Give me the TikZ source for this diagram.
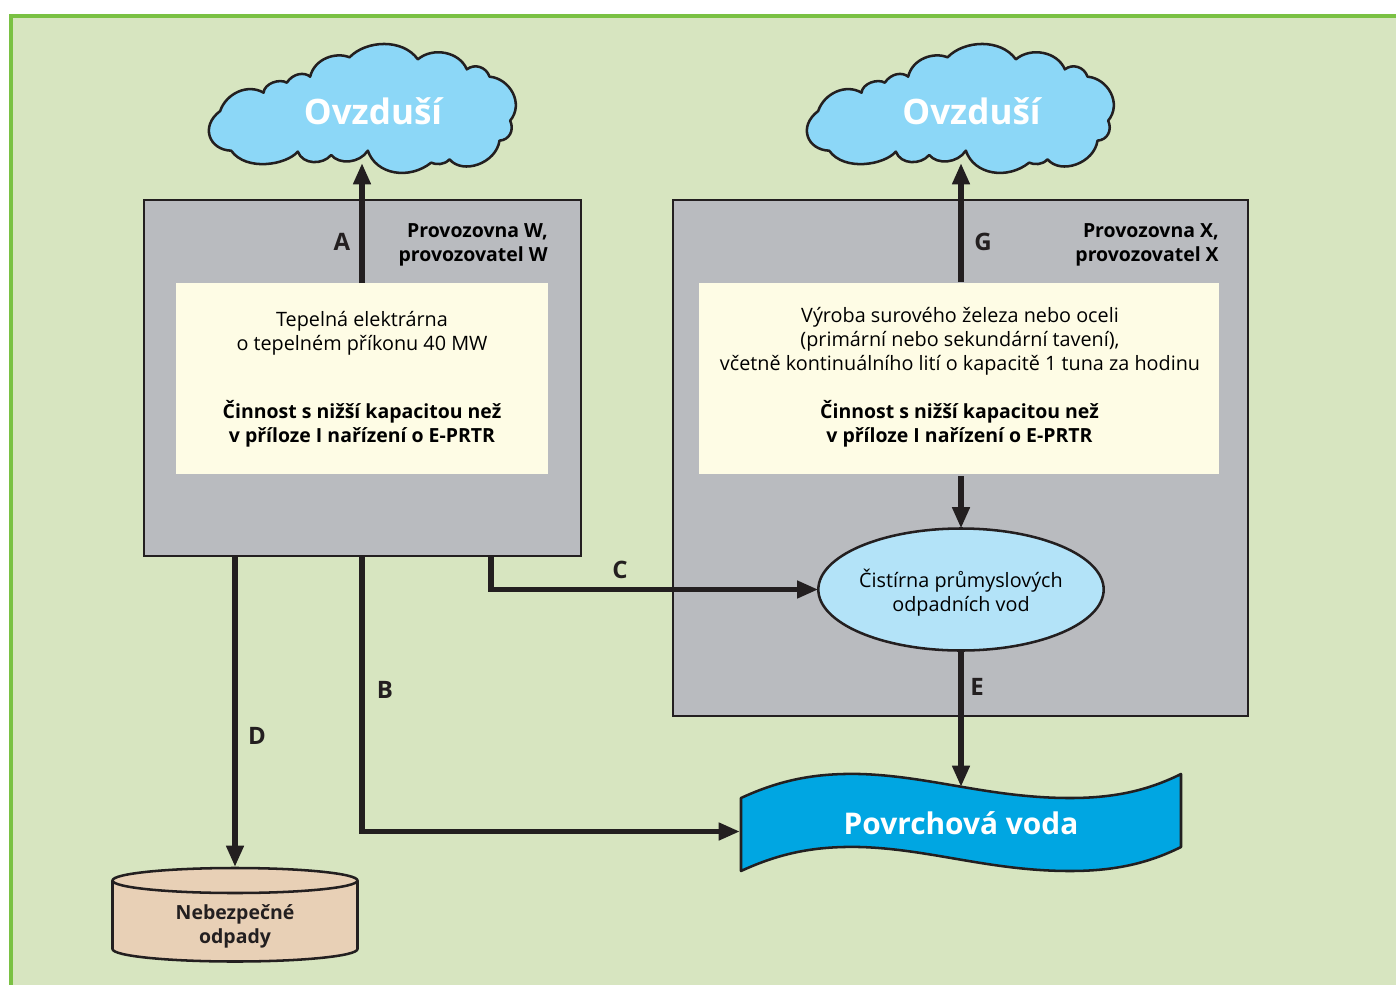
\documentclass[tikz,border=0pt]{standalone}
\usepackage{fontspec}
\setmainfont{Open Sans}
\usetikzlibrary{arrows.meta,shapes.geometric}
\definecolor{bgc}{HTML}{D7E5C0}
\definecolor{framec}{HTML}{7AC143}
\definecolor{grayc}{HTML}{B9BBBF}
\definecolor{yellowc}{HTML}{FEFCE5}
\definecolor{cloudc}{HTML}{8CD7F7}
\definecolor{ellc}{HTML}{B3E3F8}
\definecolor{waterc}{HTML}{00A6E2}
\definecolor{cylc}{HTML}{E8D0B6}
\definecolor{darkc}{HTML}{231F20}
\tikzset{
  plant/.style={draw=darkc,line width=1.9pt,fill=grayc,inner sep=0pt,outer sep=0pt},
  yellowbox/.style={fill=yellowc,inner sep=0pt,outer sep=0pt},
  bodytext/.style={align=center,inner sep=0pt,font=\fontsize{14.85}{18}\selectfont,text=black},
  boldtext/.style={bodytext,font=\fontsize{14.6}{18}\selectfont\bfseries},
  arrowlabel/.style={inner sep=0pt,text=darkc,font=\fontsize{18}{20}\selectfont\bfseries},
  titletext/.style={inner sep=0pt,text=white,font=\fontsize{26.3}{30}\selectfont\bfseries},
  watertext/.style={inner sep=0pt,text=white,font=\fontsize{22.4}{30}\selectfont\bfseries},
  flow/.style={draw=darkc,line width=4pt,-{Triangle[length=16pt,width=12.5pt]}},
  outline/.style={draw=darkc,line width=1.9pt,line join=round},
  cloudpath/.pic={
    \path[outline,fill=cloudc]
    (92,243) .. controls (110,190) and (175,160) .. (222,188)
    .. controls (225,160) and (270,145) .. (292,158)
    .. controls (310,130) and (345,125) .. (362,140)
    .. controls (375,85) and (440,65) .. (480,82)
    .. controls (530,30) and (640,25) .. (685,88)
    .. controls (730,50) and (810,65) .. (832,118)
    .. controls (855,100) and (890,110) .. (900,140)
    .. controls (960,145) and (1005,220) .. (962,272)
    .. controls (975,300) and (960,330) .. (930,332)
    .. controls (920,400) and (820,435) .. (780,388)
    .. controls (765,405) and (740,405) .. (725,398)
    .. controls (660,450) and (560,435) .. (535,362)
    .. controls (510,400) and (450,405) .. (425,375)
    .. controls (400,405) and (340,405) .. (325,365)
    .. controls (290,405) and (170,425) .. (125,362)
    .. controls (60,360) and (30,290) .. (92,243) -- cycle;
  }
}
\begin{document}
\begin{tikzpicture}[x=0.75pt,y=-0.75pt]
\useasboundingbox (0,0) rectangle (1396,985);
\clip (0,0) rectangle (1396,985);
\fill[white] (0,0) rectangle (1396,985);
\draw[draw=framec,line width=2.4pt,fill=bgc] (11,16) rectangle (1410,1010);

% clouds
\begin{scope}[shift={(189.5,30)},x=0.25pt,y=-0.25pt]
  \pic {cloudpath};
\end{scope}
\begin{scope}[shift={(787.5,30)},x=0.25pt,y=-0.25pt]
  \pic {cloudpath};
\end{scope}
\node[titletext] (cw) at (373,111) {Ovzduší};
\node[titletext] (cx) at (971.5,111) {Ovzduší};
\coordinate (cwb) at (362,163);
\coordinate (cxb) at (961,163);

% plants
\node[plant,minimum width=327.75pt,minimum height=267pt] (w) at (362.5,378) {};
\node[plant,minimum width=431.25pt,minimum height=387pt] (x) at (960.5,458) {};
\node[yellowbox,minimum width=279pt,minimum height=143.25pt] (yw) at (362,378.5) {};
\node[yellowbox,minimum width=390pt,minimum height=143.25pt] (yx) at (959,378.5) {};
\coordinate (yxt) at (961,282);
\coordinate (yxb) at (961,476);

\node[boldtext,align=right,anchor=east] (lw) at (548,244.5) {Provozovna W,\\provozovatel W};
\node[boldtext,align=right,anchor=east] (lx) at (1219,244.5) {Provozovna X,\\provozovatel X};

\node[bodytext] (tw1) at (362,333.5) {Tepelná elektrárna\\o tepelném příkonu 40 MW};
\node[boldtext] (tw2) at (362,424) {Činnost s nižší kapacitou než\\v příloze I nařízení o E-PRTR};
\node[bodytext] (tx1) at (960,341.5) {Výroba surového železa nebo oceli\\(primární nebo sekundární tavení),\\včetně kontinuálního lití o kapacitě 1 tuna za hodinu};
\node[boldtext] (tx2) at (959.5,424) {Činnost s nižší kapacitou než\\v příloze I nařízení o E-PRTR};

% treatment plant
\node[ellipse,draw=darkc,line width=1.9pt,fill=ellc,minimum width=214pt,minimum height=91.5pt,inner sep=0pt,outer sep=0pt] (el) at (961,589.5) {};
\node[bodytext] (elt) at (961,593) {Čistírna průmyslových\\odpadních vod};

% surface water
\path[outline,fill=waterc]
  (741,798) .. controls (780,780) and (815,773) .. (860,774)
  .. controls (930,776) and (990,798) .. (1070,798)
  .. controls (1110,798) and (1145,792) .. (1181,774)
  -- (1181,847)
  .. controls (1145,865) and (1110,871) .. (1070,871)
  .. controls (990,871) and (930,849) .. (860,847)
  .. controls (815,846) and (780,853) .. (741,871) -- cycle;
\node[watertext] (pv) at (961,823) {Povrchová voda};
\coordinate (pvt) at (961,787);
\coordinate (pvl) at (740,831.5);

% hazardous waste
\path[outline,fill=cylc] (112.5,880.5) -- (112.5,949) arc[start angle=180,end angle=360,x radius=122.5,y radius=-12.5] -- (357.5,880.5) arc[start angle=0,end angle=180,x radius=122.5,y radius=-12.5] -- cycle;
\path[outline] (112.5,880.5) arc[start angle=180,end angle=360,x radius=122.5,y radius=-12.5];
\node[boldtext,text=darkc] (nb) at (235,926.5) {Nebezpečné\\odpady};
\coordinate (nbt) at (235,867);

% connectors
\coordinate (wd) at (235,556);
\coordinate (wb) at (362,556);
\coordinate (wc) at (491,556);
\draw[flow] (yw.north) -- (cwb);
\draw[flow] (yxt) -- (cxb);
\draw[flow] (yxb) -- (el.north);
\draw[flow] (el.south) -- (pvt);
\draw[flow] (wd) -- (nbt);
\draw[flow] (wb) |- (pvl);
\draw[flow] (wc) |- (el.west);

\node[arrowlabel] (la) at (342,241.5) {A};
\node[arrowlabel] (lb) at (385,689.5) {B};
\node[arrowlabel] (lc) at (620,569.5) {C};
\node[arrowlabel] (ld) at (257,735.5) {D};
\node[arrowlabel] (le) at (977,686.5) {E};
\node[arrowlabel] (lg) at (983,241.5) {G};
\end{tikzpicture}
\end{document}
